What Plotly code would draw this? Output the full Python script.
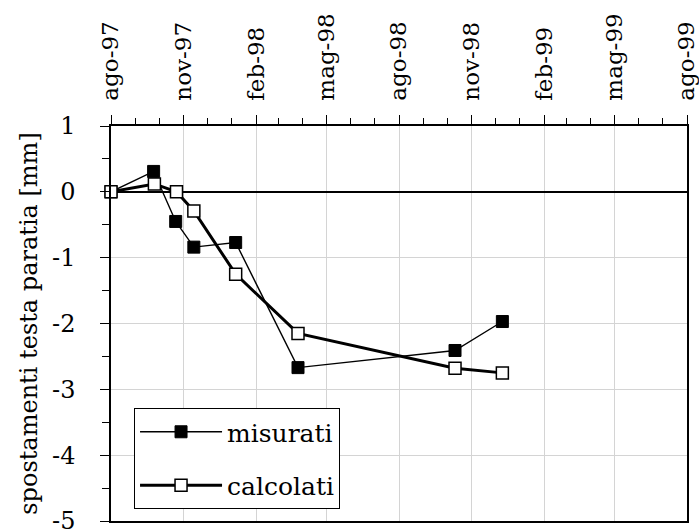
import plotly.graph_objects as go
import pandas as pd

# --- data ---
mis_dates = ["1997-08-01", "1997-09-24", "1997-10-22", "1997-11-14", "1998-01-06",
             "1998-03-26", "1998-10-11", "1998-12-10"]
mis_vals = [0.0, 0.31, -0.45, -0.84, -0.77, -2.67, -2.41, -1.97]

cal_dates = ["1997-08-01", "1997-09-25", "1997-10-23", "1997-11-14", "1998-01-06",
             "1998-03-26", "1998-10-11", "1998-12-10"]
cal_vals = [0.0, 0.12, 0.0, -0.29, -1.25, -2.15, -2.68, -2.75]

tick_dates = ["1997-08-01", "1997-11-01", "1998-02-01", "1998-05-01", "1998-08-01",
              "1998-11-01", "1999-02-01", "1999-05-01", "1999-08-01"]
tick_labels = ["ago-97", "nov-97", "feb-98", "mag-98", "ago-98",
               "nov-98", "feb-99", "mag-99", "ago-99"]

y_ticks = [1, 0, -1, -2, -3, -4, -5]
y_tick_labels = ["1", "0", "-1", "-2", "-3", "-4", "-5"]

minor_dates = [d.strftime("%Y-%m-%d") for d in pd.date_range("1997-08-01", "1999-08-01", freq="MS")]

FONT = "DejaVu Serif"

fig = go.Figure()
fig.add_trace(go.Scatter(
    x=mis_dates, y=mis_vals, name="misurati", mode="lines+markers",
    legendgroup="mis",
    line=dict(color="black", width=1.4),
    marker=dict(symbol="square", size=12, color="black", line=dict(color="black", width=1)),
    cliponaxis=False,
))
fig.add_trace(go.Scatter(
    x=cal_dates, y=cal_vals, name="calcolati", mode="lines+markers",
    legendgroup="cal",
    line=dict(color="black", width=3),
    marker=dict(symbol="square", size=12, color="white", line=dict(color="black", width=1.5)),
    cliponaxis=False,
))

fig.update_layout(
    width=699, height=531,
    margin=dict(l=111, r=12, t=126, b=10),
    paper_bgcolor="white", plot_bgcolor="white",
    font=dict(family=FONT, size=24, color="black"),
    showlegend=True,
    legend=dict(
        x=0.04, y=0.286, xanchor="left", yanchor="top",
        bgcolor="white", bordercolor="black", borderwidth=1,
        font=dict(family=FONT, size=25, color="black"),
        tracegroupgap=18, traceorder="grouped", itemwidth=82,
    ),
    xaxis=dict(
        type="date", side="top", automargin=False,
        range=["1997-08-01", "1999-08-01"],
        tickmode="array", tickvals=tick_dates, ticktext=tick_labels,
        tickangle=-90, ticks="outside", ticklen=9, tickcolor="black", tickwidth=1.3,
        ticklabelstandoff=10, ticklabeloverflow="allow",
        showline=True, linecolor="black", linewidth=1.5, mirror=True,
        showgrid=True, gridcolor="#d4d4d4", gridwidth=1.3,
        minor=dict(tickmode="array", tickvals=minor_dates, ticks="outside",
                   ticklen=6, tickcolor="black", tickwidth=1.2, showgrid=False),
        zeroline=False,
        tickfont=dict(family=FONT, size=23, color="black"),
    ),
    yaxis=dict(
        range=[-5, 1], tickmode="array", tickvals=y_ticks, ticktext=y_tick_labels,
        automargin=False,
        ticks="outside", ticklen=9, tickcolor="black", tickwidth=1.3,
        ticklabelstandoff=20, ticklabeloverflow="allow",
        showline=True, linecolor="black", linewidth=1.5, mirror=True,
        showgrid=True, gridcolor="#d4d4d4", gridwidth=1.3,
        zeroline=True, zerolinecolor="black", zerolinewidth=2,
        minor=dict(dtick=0.5, tick0=0, ticks="outside", ticklen=7, tickcolor="black",
                   tickwidth=1.2, showgrid=False),
        title=dict(text="spostamenti testa paratia [mm]", standoff=8,
                   font=dict(family=FONT, size=24, color="black")),
        tickfont=dict(family=FONT, size=24, color="black"),
    ),
)

fig.write_html("out.html")
